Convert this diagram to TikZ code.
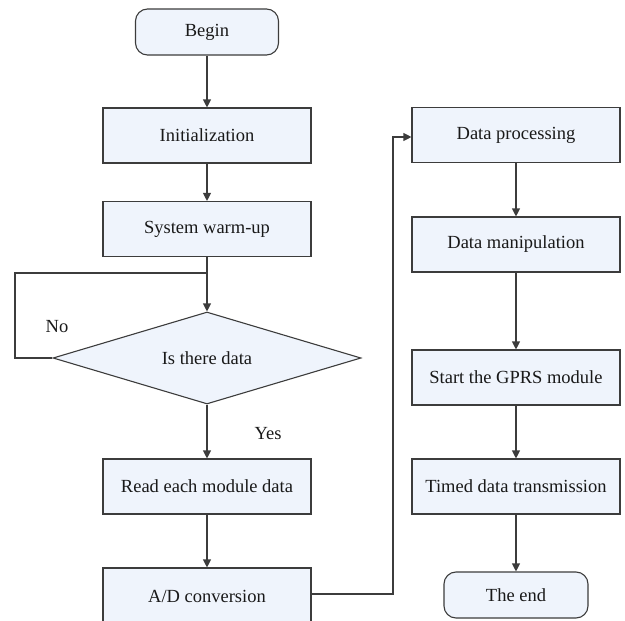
\documentclass[tikz,border=0pt]{standalone}
\usepackage{fontspec}
\setmainfont{Liberation Serif}
\usetikzlibrary{arrows.meta,shapes.geometric}
\definecolor{boxfill}{HTML}{EFF4FC}
\definecolor{edge}{HTML}{3C3C3C}
\begin{document}
\begin{tikzpicture}[x=1pt,y=-1pt,
  every node/.style={font=\fontsize{18.5}{22}\selectfont, text=black!90},
  procbox/.style={draw=edge, line width=1.1pt, fill=boxfill, minimum width=208pt, minimum height=55pt, inner sep=0pt},
  termbox/.style={draw=edge, line width=1.1pt, fill=boxfill, rounded corners=12pt, inner sep=0pt},
  decbox/.style={draw=edge, line width=1.1pt, fill=boxfill, diamond, aspect=3.35, inner sep=0pt, minimum width=308pt, minimum height=92pt},
  flow/.style={draw=edge, line width=1.1pt, -{Triangle[length=8pt,width=8pt]}},
  plain/.style={draw=edge, line width=1.1pt}]
\useasboundingbox (0,0) rectangle (625,621);
\begin{scope}
\clip (0,0) rectangle (625,621);
% left column
\node[termbox, minimum width=143pt, minimum height=46pt] (begin) at (207,32) {Begin};
\node[procbox] (init) at (207,135.5) {Initialization};
\node[procbox] (warm) at (207,229) {System warm-up};
\node[decbox] (isdata) at (207,358) {Is there data};
\node[procbox] (read) at (207,486.5) {Read each module data};
\node[procbox, minimum height=56pt] (adc) at (207,596) {A/D conversion};
% right column
\node[procbox] (proc) at (516,135) {Data processing};
\node[procbox] (manip) at (516,244.5) {Data manipulation};
\node[procbox] (gprs) at (516,377.5) {Start the GPRS module};
\node[procbox] (timed) at (516,486.5) {Timed data transmission};
\node[termbox, minimum width=144pt, minimum height=46pt] (end) at (516,595) {The end};
% labels
\node (no) at (57,327) {No};
\node (yes) at (268,434) {Yes};
% connectors
\draw[flow] (begin) -- (init);
\draw[flow] (init) -- (warm);
\draw[flow] (warm) -- (isdata.north);
\coordinate (loopin) at (207,273);
\draw[plain] (loopin) -- (15,273) -- (15,358) -- (isdata.west);
\draw[flow] (isdata.south) -- (read);
\draw[flow] (read) -- (adc);
\draw[flow] (adc.east |- 0,594) -- (393,594) -- (393,137) -- (proc.west |- 0,137);
\draw[flow] (proc) -- (manip);
\draw[flow] (manip) -- (gprs);
\draw[flow] (gprs) -- (timed);
\draw[flow] (timed) -- (end);
\end{scope}
\end{tikzpicture}
\end{document}
